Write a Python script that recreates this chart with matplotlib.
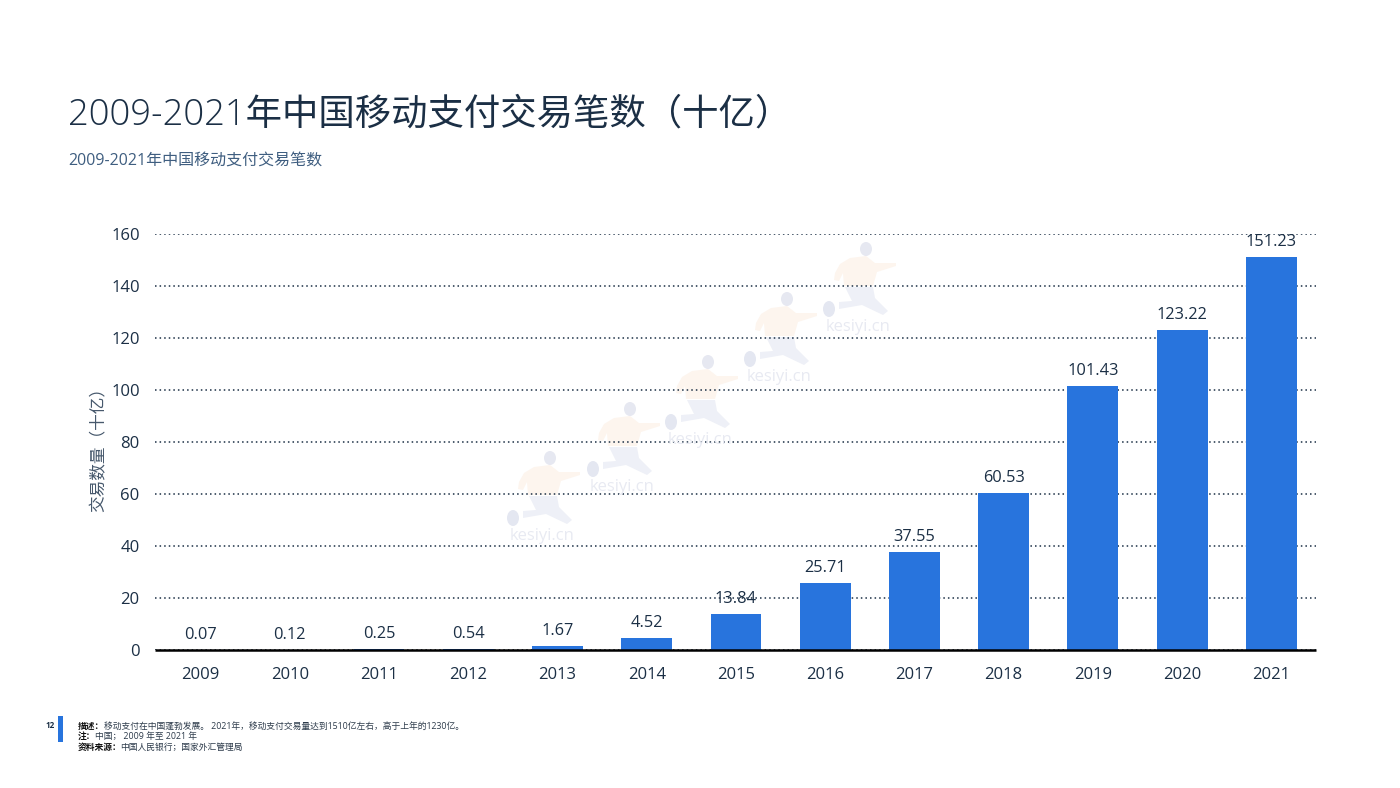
"""Mobile payment transaction counts in China, 2009-2021."""

import matplotlib
matplotlib.use("Agg")
import matplotlib.pyplot as plt
from matplotlib.patches import Ellipse, Polygon, Rectangle

years = ["2009", "2010", "2011", "2012", "2013", "2014", "2015",
         "2016", "2017", "2018", "2019", "2020", "2021"]
volumes = [0.07, 0.12, 0.25, 0.54, 1.67, 4.52, 13.84,
           25.71, 37.55, 60.53, 101.43, 123.22, 151.23]
y_ticks = [0, 20, 40, 60, 80, 100, 120, 140, 160]

title = "2009-2021年中国移动支付交易笔数（十亿）"
subtitle = "2009-2021年中国移动支付交易笔数"
y_label = "交易数量（十亿）"
notes = [
    ("描述：", "移动支付在中国蓬勃发展。 2021年，移动支付交易量达到1510亿左右，高于上年的1230亿。"),
    ("注：", "中国； 2009 年至 2021 年"),
    ("资料来源：", "中国人民银行；国家外汇管理局"),
]
# watermark anchors, pixels of the figure
marks_x = [542, 622, 700, 779, 858]
marks_y = [490, 441, 394, 331, 281]

# runner outline, pixel offsets from the anchor
torso = [(-23, -8), (-18, -17), (-8, -23), (8, -25), (17, -18), (38, -18), (38, -15),
         (19, -9), (15, 5), (-14, 5), (-15, -8), (-19, 0), (-24, -1)]
legs = [(-13, 6), (15, 6), (17, 17), (30, 30), (25, 34), (4, 24), (-19, 28),
        (-19, 21), (-6, 20)]

DARK = "#1b2f45"
BLUE = "#2874dd"
FONTS = ["Open Sans", "Noto Sans CJK SC", "DejaVu Sans"]
W, H = 1400, 788

plt.rcParams["font.family"] = FONTS

fig = plt.figure(figsize=(14, 7.88), dpi=100)
ax = fig.add_axes([155 / W, 1 - 650 / H, (1316 - 155) / W, (650 - 234) / H])


def px(x, y):
    return x / W, 1 - y / H


# faint watermark behind the chart
for mx, my in zip(marks_x, marks_y):
    fig.add_artist(Polygon([px(mx + a, my + b) for a, b in torso],
                           color="#fdf5ee", lw=0, zorder=0))
    fig.add_artist(Polygon([px(mx + a, my + b) for a, b in legs],
                           color="#eef0f7", lw=0, zorder=0))
    fig.add_artist(Ellipse(px(mx - 29, my + 28), 12 / W, 16 / H,
                           color="#e4e7f1", lw=0, zorder=0))
    fig.add_artist(Ellipse(px(mx + 8, my - 32), 12 / W, 14 / H,
                           color="#e6e8f1", lw=0, zorder=0))
    fig.text(*px(mx, my + 46), "kesiyi.cn", fontsize=12, color="#e8eaf2",
             ha="center", va="center", zorder=0)

ax.patch.set_alpha(0)
ax.bar(years, volumes, width=0.57, color=BLUE, zorder=3)
for i, v in enumerate(volumes):
    ax.annotate(f"{v:.2f}", (i, v), xytext=(0, 5), textcoords="offset points",
                ha="center", va="bottom", fontsize=11.8, color=DARK, zorder=4)

ax.set_xlim(-0.51, 12.5)
ax.set_ylim(0, 160)
ax.set_yticks(y_ticks)
ax.grid(axis="y", color=DARK, linestyle=(0, (1, 2)), linewidth=1.1, zorder=1)
ax.set_axisbelow(True)
ax.tick_params(axis="both", length=0, labelsize=12, labelcolor=DARK)
ax.tick_params(axis="x", pad=12)
ax.tick_params(axis="y", pad=11)
for name in ["top", "left", "right"]:
    ax.spines[name].set_visible(False)
ax.spines["bottom"].set_color("black")
ax.spines["bottom"].set_linewidth(1.8)
ax.spines["bottom"].set_capstyle("butt")
ax.spines["bottom"].set_zorder(5)

fig.text(*px(99, 445), y_label, rotation=90, ha="center", va="center",
         fontsize=12, color="#46586c", fontweight="light")

fig.text(*px(68, 115), title, fontsize=26.2, color=DARK, va="center",
         fontweight="light")
fig.text(*px(68, 162), subtitle, fontsize=11.5, color="#3f5e80", va="center")

# footer
fig.add_artist(Rectangle(px(58, 742), 5 / W, 26 / H, color=BLUE, lw=0))
fig.text(*px(55, 726), "12", fontsize=5.8, color=DARK, ha="right", va="center",
         fontweight="bold")
for (head, body), y in zip(notes, [726, 736, 747]):
    fig.text(*px(78, y), head, fontsize=6.3, color="#111111", va="center",
             fontweight="bold")
    x0 = 78 + len(head) * 8.5
    fig.text(*px(x0, y), body, fontsize=6.3, color="#2c3a4a", va="center")

fig.savefig("out.png", dpi=100)
